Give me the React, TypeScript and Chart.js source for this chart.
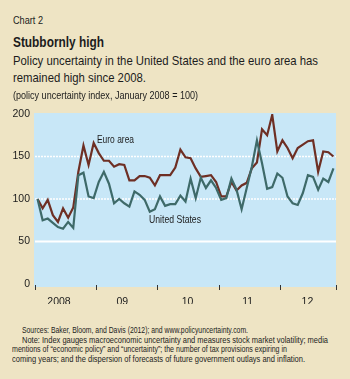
import { useEffect, useRef } from 'react';
import { Chart, registerables } from 'chart.js';
Chart.register(...registerables);

const yearNames = ['2008', '2009', '2010', '2011', '2012'];
const monthNames = ['Jan', 'Feb', 'Mar', 'Apr', 'May', 'Jun', 'Jul', 'Aug', 'Sep', 'Oct', 'Nov', 'Dec'];
const categories = yearNames.flatMap((y) => monthNames.map((m) => `${m} ${y}`)).slice(0, 59);

const euroArea = [
  100, 89, 99, 81, 73, 89, 78, 90, 132, 163, 140, 166,
  154, 145, 145, 138, 141, 140, 122, 122, 127, 127, 125, 116,
  128, 128, 128, 137, 158, 149, 148, 136, 126, 127, 128, 120,
  103, 103, 120, 110, 116, 119, 136, 143, 182, 175, 199, 156,
  169, 160, 148, 160, 164, 168, 169, 132, 156, 155, 150,
];

const unitedStates = [
  100, 75, 77, 72, 67, 65, 73, 66, 128, 131, 103, 101,
  120, 132, 118, 95, 100, 95, 91, 109, 105, 99, 85, 88,
  103, 92, 94, 94, 104, 97, 124, 101, 125, 113, 122, 113,
  99, 101, 124, 111, 88, 113, 138, 169, 142, 112, 114, 130,
  125, 103, 95, 93, 107, 128, 126, 111, 124, 120, 136,
];

const yTicks = [0, 50, 100, 150, 200];
const yearLabels = ['2008', '09', '10', '11', '12'];
const yearLabelAt = [4.2, 16.6, 29.4, 41.2, 52.9];
const yearBoundaries = [0, 12, 24, 36, 48, 59];
const dottedGrid = [100, 150];
const solidGrid = [50];

const FONT = "'Liberation Sans', Arial, sans-serif";
const BEIGE = '#EEE4C4';
const BLUE = '#C8E7F7';
const EURO = '#6E2F24';
const US = '#3E6A69';
const TEXT = '#1c1c1c';

const panelPlugin = {
  id: 'panel',
  beforeDraw(chart: any) {
    const { ctx, chartArea: a, scales } = chart;
    ctx.save();
    ctx.fillStyle = BLUE;
    ctx.fillRect(a.left - 1, a.top - 1, a.right - a.left + 1, a.bottom - a.top + 4);
    ctx.strokeStyle = '#ffffff';
    solidGrid.forEach((v) => {
      const py = scales.y.getPixelForValue(v);
      ctx.lineWidth = 2;
      ctx.setLineDash([]);
      ctx.beginPath();
      ctx.moveTo(a.left, py);
      ctx.lineTo(a.right, py);
      ctx.stroke();
    });
    dottedGrid.forEach((v) => {
      const py = scales.y.getPixelForValue(v);
      ctx.lineWidth = 1.5;
      ctx.setLineDash([2, 1]);
      ctx.beginPath();
      ctx.moveTo(a.left, py);
      ctx.lineTo(a.right, py);
      ctx.stroke();
    });
    ctx.restore();
  },
  afterDraw(chart: any) {
    const { ctx, chartArea: a, scales } = chart;
    ctx.save();
    ctx.strokeStyle = '#333333';
    ctx.lineWidth = 1;
    yearBoundaries.forEach((m) => {
      const px = Math.round(scales.x.getPixelForValue(m - 0.5)) + 0.5;
      ctx.beginPath();
      ctx.moveTo(px, a.bottom + 1);
      ctx.lineTo(px, a.bottom + 6);
      ctx.stroke();
    });
    ctx.restore();
  },
};

function ChartCanvas() {
  const ref = useRef<HTMLCanvasElement>(null);
  useEffect(() => {
    if (!ref.current) return;
    const chart = new Chart(ref.current, {
      type: 'line',
      data: {
        labels: categories,
        datasets: [
          {
            label: 'United States',
            data: unitedStates,
            borderColor: US,
            borderWidth: 2.2,
            pointRadius: 0,
            tension: 0,
            order: 1,
          },
          {
            label: 'Euro area',
            data: euroArea,
            borderColor: EURO,
            borderWidth: 2.2,
            pointRadius: 0,
            tension: 0,
            order: 2,
          },
        ],
      },
      options: {
        responsive: false,
        animation: false,
        layout: { padding: { left: 0, right: 14, top: 14, bottom: 6 } },
        plugins: { legend: { display: false }, tooltip: { enabled: false } },
        scales: {
          x: {
            type: 'category',
            offset: true,
            grid: { display: false, drawTicks: false },
            border: { display: false },
            afterBuildTicks: (axis: any) => {
              axis.ticks = yearLabelAt.map((v) => ({ value: v }));
            },
            afterFit: (s: any) => {
              s.height = 20;
            },
            ticks: {
              autoSkip: false,
              maxRotation: 0,
              padding: 12,
              color: TEXT,
              font: { family: FONT, size: 10.5 },
              callback: (_v: any, i: number) => yearLabels[i],
            },
          },
          y: {
            min: 0,
            max: 200,
            grid: { display: false, drawTicks: false },
            border: { display: false },
            afterBuildTicks: (axis: any) => {
              axis.ticks = yTicks.map((v) => ({ value: v }));
            },
            afterFit: (s: any) => {
              s.width = 35;
            },
            ticks: {
              padding: 5,
              color: TEXT,
              font: { family: FONT, size: 10.5 },
            },
          },
        },
      },
      plugins: [panelPlugin],
    });
    return () => chart.destroy();
  }, []);
  return (
    <canvas
      ref={ref}
      width={350}
      height={210}
      style={{ position: 'absolute', left: 0, top: 100, width: 350, height: 210 }}
    />
  );
}

let measureCtx: CanvasRenderingContext2D | null = null;
function measure(text: string, size: number, bold: boolean) {
  if (!measureCtx) measureCtx = document.createElement('canvas').getContext('2d');
  if (!measureCtx) return 1;
  measureCtx.font = `${bold ? 'bold ' : ''}${size}px ${FONT}`;
  return measureCtx.measureText(text).width || 1;
}

function Txt(props: { text: string; left: number; top: number; size: number; width: number; bold?: boolean; scaleFrom?: string; scaleWidth?: number }) {
  const { text, left, top, size, width, bold } = props;
  const ref = props.scaleFrom ?? text;
  const refW = props.scaleWidth ?? width;
  const sx = refW / measure(ref, size, !!bold);
  return (
    <div
      style={{
        position: 'absolute',
        left,
        top,
        fontSize: size,
        lineHeight: 1,
        whiteSpace: 'nowrap',
        color: TEXT,
        fontFamily: FONT,
        fontWeight: bold ? 'bold' : 'normal',
        transform: `scaleX(${sx})`,
        transformOrigin: 'left top',
      }}
    >
      {text}
    </div>
  );
}

const sub1 = 'Policy uncertainty in the United States and the euro area has';

export default function App() {
  return (
    <div style={{ position: 'absolute', left: 0, top: 0, width: 350, height: 379, background: BEIGE, overflow: 'hidden' }}>
      <ChartCanvas />
      <Txt text="Chart 2" left={13} top={14.7} size={11} width={30} />
      <Txt text="Stubbornly high" left={13} top={33.5} size={15.5} width={91} bold />
      <Txt text={sub1} left={13} top={55.3} size={12.8} width={305} />
      <Txt text="remained high since 2008." left={13} top={72.3} size={12.8} width={134} scaleFrom={sub1} scaleWidth={305} />
      <Txt text="(policy uncertainty index, January 2008 = 100)" left={13} top={89.8} size={10.8} width={185} />
      <Txt text="Euro area" left={97} top={134} size={10.5} width={37} />
      <Txt text="United States" left={149} top={214} size={10.5} width={52} />
      <Txt text="Sources: Baker, Bloom, and Davis (2012); and www.policyuncertainty.com." left={22} top={325.5} size={9.3} width={226} />
      <Txt text="Note: Index gauges macroeconomic uncertainty and measures stock market volatility; media" left={22} top={336.2} size={9.3} width={306} />
      <Txt text="mentions of “economic policy” and “uncertainty”; the number of tax provisions expiring in" left={12} top={345.2} size={9.3} width={275} />
      <Txt text="coming years; and the dispersion of forecasts of future government outlays and inflation." left={12} top={354.5} size={9.3} width={293} />
    </div>
  );
}
